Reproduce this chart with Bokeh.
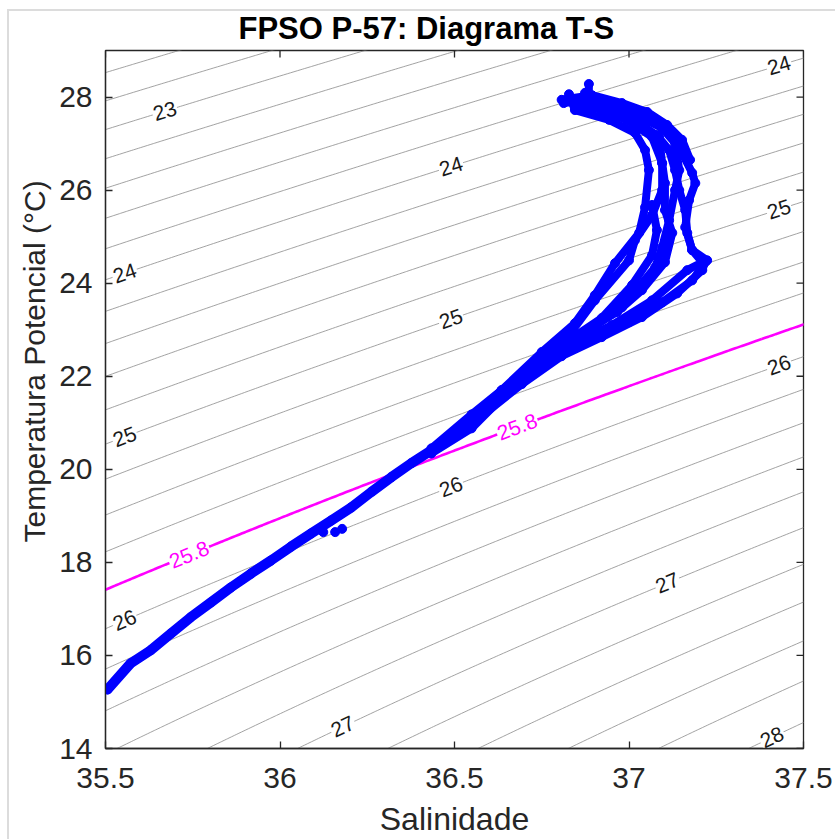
import numpy as np
from contourpy import contour_generator
from bokeh.plotting import figure
from bokeh.models import FixedTicker, Range1d, Title
from bokeh.core.properties import value
from bokeh.embed import file_html
from bokeh.resources import INLINE

# ---------------- data ----------------
title_text = "FPSO P-57: Diagrama T-S"
x_label = "Salinidade"
y_label = "Temperatura Potencial (°C)"

x_ticks = [35.5, 36.0, 36.5, 37.0, 37.5]
x_tick_labels = ["35.5", "36", "36.5", "37", "37.5"]
y_ticks = [14, 16, 18, 20, 22, 24, 26, 28]

# isopycnal levels (sigma-theta, kg/m3) drawn as thin grey contours
contour_levels = [22.0, 22.2, 22.4, 22.6, 22.8, 23.0, 23.2, 23.4, 23.6, 23.8,
                  24.0, 24.2, 24.4, 24.6, 24.8, 25.0, 25.2, 25.4, 25.6, 25.8,
                  26.0, 26.2, 26.4, 26.6, 26.8, 27.0, 27.2, 27.4, 27.6, 27.8,
                  28.0, 28.2, 28.4, 28.6, 28.8]
highlight_level = 25.8

# contour labels: level and salinity where the label sits on its isopycnal
label_levels = [23, 24, 24, 25, 24, 25, 26, 25, 26, 27, 26, 27, 28]
label_text = ["23", "24", "24", "25", "24", "25", "26", "25", "26", "27", "26", "27", "28"]
label_sal = [35.67, 36.49, 37.43, 37.43, 35.555, 36.49, 37.43, 35.555, 36.49, 37.11, 35.555, 36.18, 37.41]
hl_label_text = ["25.8", "25.8"]
hl_label_sal = [36.68, 35.74]

trunk_s = [35.506, 35.572, 35.629, 35.687, 35.744, 35.802, 35.859, 35.917, 35.974,
           36.032, 36.089, 36.147, 36.204, 36.261, 36.319, 36.376, 36.434]
trunk_t = [15.27, 15.83, 16.11, 16.47, 16.82, 17.14, 17.46, 17.76, 18.04,
           18.34, 18.62, 18.90, 19.18, 19.51, 19.83, 20.13, 20.41]

prof1_s = [36.434, 36.549, 36.635, 36.693, 36.779, 36.894, 37.000, 37.095, 37.181, 37.224, 37.181,
           37.161, 37.172, 37.190, 37.181, 37.152, 37.124, 37.075, 37.037, 36.980, 36.902, 36.813]
prof1_t = [20.37, 20.92, 21.57, 21.91, 22.41, 22.82, 23.16, 23.59, 24.06, 24.49, 24.71,
           25.20, 25.78, 26.15, 26.37, 26.80, 27.23, 27.44, 27.57, 27.76, 27.94, 27.87]
prof2_s = [36.434, 36.549, 36.635, 36.750, 36.845, 36.902, 36.960, 37.029, 37.046, 37.057,
           37.046, 37.017, 36.943, 36.845, 36.828]
prof2_t = [20.45, 21.18, 21.70, 22.52, 23.14, 23.74, 24.43, 25.08, 25.63, 26.43,
           26.86, 27.23, 27.51, 27.72, 28.06]
prof3_s = [36.434, 36.549, 36.635, 36.721, 36.807, 36.902, 37.000, 37.017, 37.066, 37.095,
           37.095, 37.086, 37.037, 36.951, 36.885, 36.885]
prof3_t = [20.41, 21.05, 21.66, 22.17, 22.67, 23.63, 24.49, 24.92, 25.46, 26.00,
           26.58, 27.14, 27.40, 27.66, 28.00, 28.28]
prof4_s = [36.434, 36.549, 36.635, 36.750, 36.865, 36.980, 37.075, 37.095, 37.115, 37.132,
           37.144, 37.132, 37.095, 37.023, 36.922, 36.874]
prof4_t = [20.39, 20.99, 21.61, 22.34, 22.88, 23.48, 24.34, 24.77, 25.35, 26.00,
           26.43, 27.01, 27.33, 27.61, 27.83, 28.09]
prof5_s = [36.434, 36.549, 36.635, 36.707, 36.836, 36.951, 37.066, 37.167, 37.210, 37.181,
           37.167, 37.161, 37.144, 37.132, 37.115, 37.080, 37.009, 36.922, 36.865]
prof5_t = [20.34, 20.88, 21.53, 22.09, 22.67, 23.10, 23.63, 24.28, 24.45, 24.71,
           25.08, 25.57, 26.00, 26.43, 26.86, 27.18, 27.46, 27.72, 27.83]
prof6_s = [36.434, 36.549, 36.635, 36.736, 36.851, 36.966, 37.037, 37.103, 37.124, 37.103,
           37.103, 37.095, 37.066, 36.994, 36.908]
prof6_t = [20.43, 21.12, 21.70, 22.30, 22.88, 23.38, 23.85, 24.45, 25.08, 25.57,
           26.15, 26.58, 27.14, 27.51, 27.83]
prof7_s = [36.549, 36.693, 36.807, 36.922, 37.037, 37.138, 37.210, 37.218]
prof7_t = [20.97, 21.83, 22.43, 22.84, 23.27, 23.78, 24.28, 24.45]
prof8_s = [36.693, 36.807, 36.922, 37.009, 37.066, 37.080, 37.066]
prof8_t = [21.96, 22.67, 23.25, 23.96, 24.60, 25.14, 25.68]
prof9_s = [36.807, 36.894, 36.980, 37.052, 37.109, 37.152, 37.175]
prof9_t = [27.94, 28.04, 27.87, 27.68, 27.40, 27.08, 26.65]
hook_s = [36.124, 36.158, 36.178, 36.120]
hook_t = [18.65, 18.65, 18.72, 18.75]

# ---------------- equation of state (UNESCO 1980, p = 0) ----------------
def sigma0(S, T):
    rho_w = (999.842594 + 6.793952e-2 * T - 9.095290e-3 * T**2 + 1.001685e-4 * T**3
             - 1.120083e-6 * T**4 + 6.536332e-9 * T**5)
    A = 8.24493e-1 - 4.0899e-3 * T + 7.6438e-5 * T**2 - 8.2467e-7 * T**3 + 5.3875e-9 * T**4
    B = -5.72466e-3 + 1.0227e-4 * T - 1.6546e-6 * T**2
    C = 4.8314e-4
    return rho_w + A * S + B * S**1.5 + C * S**2 - 1000.0

sg = np.linspace(35.3, 37.7, 241)
tg = np.linspace(13.0, 30.0, 341)
SS, TT = np.meshgrid(sg, tg)
gen = contour_generator(sg, tg, sigma0(SS, TT))

def contour_lines(levels):
    xs, ys = [], []
    for lev in levels:
        for seg in gen.lines(lev):
            xs.append(seg[:, 0].tolist())
            ys.append(seg[:, 1].tolist())
    return xs, ys

t_fine = np.linspace(5.0, 35.0, 6001)
def temp_on(level, s):
    sig = sigma0(s, t_fine)
    return float(np.interp(level, sig[::-1], t_fine[::-1]))

# ---------------- figure ----------------
X0, X1, Y0, Y1 = 35.5, 37.5, 14.0, 29.0
FW, FH = 698, 698
W, H = 835, 839
ML, MT = 105, 50
PX_PER_T = FH / (Y1 - Y0)
PX_PER_S = FW / (X1 - X0)
TICK_LEN = 7

def label_angle(level, s):
    d = 0.01
    slope = (temp_on(level, s + d) - temp_on(level, s - d)) / (2 * d)
    return float(np.arctan(slope * PX_PER_T / PX_PER_S))

FONT = "Liberation Sans"
AXC = "#262626"

p = figure(width=W, height=H, output_backend="svg", toolbar_location=None,
           x_range=Range1d(X0, X1), y_range=Range1d(Y0, Y1),
           min_border_left=ML, min_border_top=MT,
           min_border_right=W - ML - FW, min_border_bottom=H - MT - FH,
           background_fill_color="white", border_fill_color=None)
p.styles = {"background": ("linear-gradient(#dcdcdc,#dcdcdc) 7px 9px / 2px 840px no-repeat, "
                           "linear-gradient(#dcdcdc,#dcdcdc) 7px 9px / 840px 2px no-repeat, white")}
p.grid.visible = False
p.outline_line_color = AXC
p.outline_line_width = 1.3

p.title.text = title_text
p.title.text_font = FONT
p.title.text_font_size = "31px"
p.title.text_font_style = "bold"
p.title.text_color = "black"
p.title.align = "left"
p.title.offset = 133
p.title.standoff = 10

for ax in (p.xaxis[0], p.yaxis[0]):
    ax.major_label_text_font = FONT
    ax.major_label_text_font_size = "30px"
    ax.major_label_text_color = AXC
    ax.axis_line_color = AXC
    ax.axis_line_width = 1.3
    ax.major_tick_line_color = AXC
    ax.major_tick_line_width = 1.3
    ax.major_tick_in = TICK_LEN
    ax.major_tick_out = 0
    ax.minor_tick_line_color = None
p.xaxis.ticker = FixedTicker(ticks=x_ticks)
p.xaxis.major_label_overrides = {v: t for v, t in zip(x_ticks, x_tick_labels)}
p.xaxis.major_label_standoff = 19
p.xaxis.axis_label = x_label
p.xaxis.axis_label_text_font = FONT
p.xaxis.axis_label_text_font_size = "32px"
p.xaxis.axis_label_text_font_style = "normal"
p.xaxis.axis_label_text_color = AXC
p.xaxis.axis_label_standoff = 10
p.yaxis.ticker = FixedTicker(ticks=y_ticks)
p.yaxis.major_label_standoff = 13

# y label as a left-side title so it can sit where the reference has it
p.add_layout(Title(text=y_label, text_font=FONT, text_font_size="30px",
                   text_font_style="normal", text_color=AXC,
                   align="left", offset=206, standoff=11), "left")

# grey isopycnals
cx, cy = contour_lines(contour_levels)
p.multi_line(cx, cy, line_color="#8a8a8a", line_width=0.8)

lab_t = [temp_on(l, s) for l, s in zip(label_levels, label_sal)]
lab_a = [label_angle(l, s) for l, s in zip(label_levels, label_sal)]
p.text(x=label_sal, y=lab_t, text=label_text, angle=lab_a,
       text_font=value(FONT), text_font_size=value("21px"), text_color="#1a1a1a",
       text_align="center", text_baseline="middle",
       background_fill_color="white", padding=1)

# highlighted isopycnal
hx, hy = contour_lines([highlight_level])
p.multi_line(hx, hy, line_color="#ff00ff", line_width=2.6)
hl_t = [temp_on(highlight_level, s) for s in hl_label_sal]
hl_a = [label_angle(highlight_level, s) for s in hl_label_sal]
p.text(x=hl_label_sal, y=hl_t, text=hl_label_text, angle=hl_a,
       text_font=value(FONT), text_font_size=value("21px"), text_color="#ff00ff",
       text_align="center", text_baseline="middle",
       background_fill_color="white", padding=1)

# observations
BLUE = "#0000ff"
p.line(trunk_s, trunk_t, line_color=BLUE, line_width=10, line_cap="round", line_join="round")
profs = [(prof1_s, prof1_t), (prof2_s, prof2_t), (prof3_s, prof3_t),
         (prof4_s, prof4_t), (prof5_s, prof5_t), (prof6_s, prof6_t),
         (prof7_s, prof7_t), (prof8_s, prof8_t), (prof9_s, prof9_t)]
p.multi_line([a for a, b in profs], [b for a, b in profs], line_color=BLUE,
             line_width=8, line_cap="round", line_join="round")
all_s = trunk_s + sum([a for a, b in profs], []) + hook_s
all_t = trunk_t + sum([b for a, b in profs], []) + hook_t
p.scatter(all_s, all_t, size=9, marker="circle", fill_color=BLUE, line_color=BLUE)

# inward tick marks on the top and right edges (box axes), from the tick arrays
p.segment(x0=x_ticks, y0=[Y1] * len(x_ticks), x1=x_ticks,
          y1=[Y1 - TICK_LEN / PX_PER_T] * len(x_ticks), line_color=AXC, line_width=1.3)
p.segment(x0=[X1] * len(y_ticks), y0=y_ticks, x1=[X1 - TICK_LEN / PX_PER_S] * len(y_ticks),
          y1=y_ticks, line_color=AXC, line_width=1.3)

open("out.html", "w").write(file_html(p, INLINE))
